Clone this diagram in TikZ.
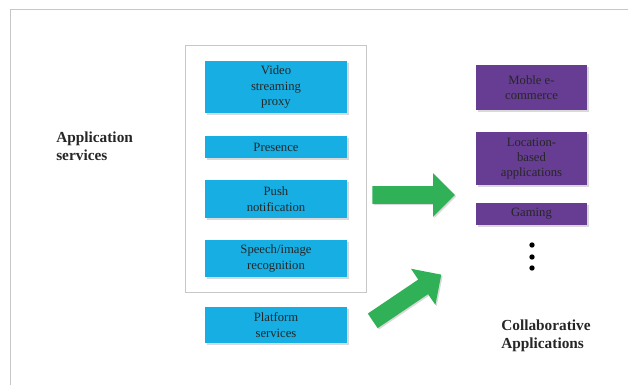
\documentclass[tikz,border=0pt]{standalone}
\usepackage{fontspec}
\setmainfont{Liberation Serif}
\usetikzlibrary{positioning,fit,shadows,shapes.arrows}

\definecolor{svcblue}{HTML}{16AEE3}
\definecolor{apppurple}{HTML}{663D93}
\definecolor{arrgreen}{HTML}{31B157}
\definecolor{txtdark}{HTML}{262626}

\tikzset{
  boxshadow/.style={drop shadow={shadow xshift=1.5pt,shadow yshift=-1.5pt,fill=black!15,opacity=1}},
  svc/.style={rectangle, fill=svcblue, boxshadow, minimum width=106.5pt, inner sep=1pt,
    align=center, text=txtdark, font=\fontsize{9.5}{11.5}\selectfont},
  capp/.style={rectangle, fill=apppurple, boxshadow, minimum width=83.25pt, inner sep=1pt,
    align=center, text=txtdark, font=\fontsize{9.5}{11.5}\selectfont},
  biglabel/.style={align=left, inner sep=0pt, text=txtdark, font=\fontsize{11.5}{13.5}\selectfont\bfseries},
  blockarrow/.style={single arrow, fill=arrgreen, inner xsep=0pt, inner ysep=6.4pt,
    single arrow head extend=9.75pt, minimum height=62pt, text width=0pt,
    drop shadow={shadow xshift=1pt,shadow yshift=-1pt,fill=black!15,opacity=1}},
}

\begin{document}
\begin{tikzpicture}[x=0.75pt,y=-0.75pt]
\useasboundingbox (0,0) rectangle (628,385);

% frame
\draw[black!22,line width=0.6pt] (10,385) -- (10,9) -- (628,9);

% application services
\node[svc, minimum height=39pt]   (video)    at (276,87)    {Video\\streaming\\proxy};
\node[svc, minimum height=16.5pt] (presence) at (276,147)   {Presence};
\node[svc, minimum height=28.5pt] (push)     at (276,199)   {Push\\notification};
\node[svc, minimum height=27.75pt](speech)   at (276,258.5) {Speech/image\\recognition};
\node[svc, minimum height=27pt]   (platform) at (276,325)   {Platform\\services};

\node[draw=black!22, line width=0.6pt, inner xsep=14.25pt, inner ysep=11.25pt,
  fit=(video)(speech)] (svcgroup) {};

\node[biglabel, anchor=west] (applabel) at (56,146) {Application\\services};

% collaborative applications
\node[capp, minimum height=33.75pt] (mobile)   at (531.5,87.5)  {Moble e-\\commerce};
\node[capp, minimum height=39.75pt] (location) at (531.5,158.5) {Location-\\based\\applications};
\node[capp, minimum height=16.5pt]  (gaming)   at (531.5,214)   {Gaming};

\foreach \y/\n in {245/dotA,257/dotB,268/dotC}
  \node[circle, fill=black, inner sep=0pt, minimum size=4pt] (\n) at (532,\y) {};

\node[biglabel, anchor=west] (collabel) at (501,336) {Collaborative\\Applications};

% arrows
\node[blockarrow, anchor=tail] (arrowA) at (372,195) {};
\node[blockarrow, anchor=tail, rotate=34] (arrowB) at (372.5,321) {};

\end{tikzpicture}
\end{document}
